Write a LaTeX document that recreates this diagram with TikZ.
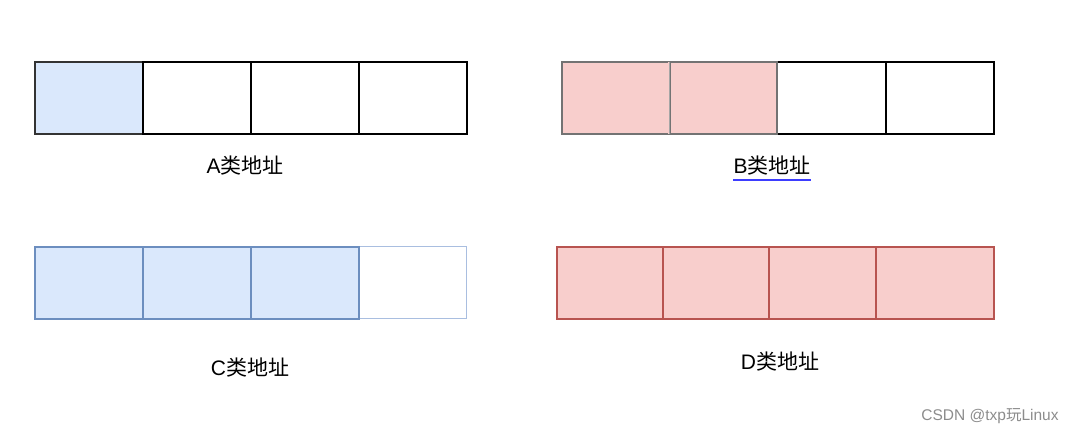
\documentclass[tikz,border=0pt]{standalone}
\usepackage{fontspec}
\setmainfont{Noto Sans CJK SC}
\newfontfamily\latn{Liberation Sans}
\definecolor{lblue}{HTML}{DAE8FC}
\definecolor{dblue}{HTML}{6C8EBF}
\definecolor{pblue}{HTML}{A9BEE0}
\definecolor{lred}{HTML}{F8CECC}
\definecolor{dred}{HTML}{B85450}
\definecolor{ulblue}{HTML}{3D3DFF}
\tikzset{
  cell/.style={rectangle, inner sep=0pt, anchor=north west, minimum height=72pt, line width=1.6pt},
  blk/.style={cell, draw=black, fill=white},
  lab/.style={font=\fontsize{21pt}{24pt}\selectfont, inner sep=0pt, anchor=center},
}
\begin{document}
\begin{tikzpicture}[x=1pt,y=-1pt]
\useasboundingbox (0,0) rectangle (1075,434);
% A row
\node[cell, fill=lblue, draw=black!80, minimum width=108pt] (a1) at (34,61) {};
\node[blk, minimum width=108pt] (a2) at (142,61) {};
\node[blk, minimum width=108pt] (a3) at (250,61) {};
\node[blk, minimum width=108pt] (a4) at (358,61) {};
\node[lab] (la) at (245,166) {{\latn A}类地址};
% B row
\node[blk, minimum width=109pt] (b3) at (776,61) {};
\node[blk, minimum width=108pt] (b4) at (885,61) {};
\node[cell, fill=lred, draw=black!55, minimum width=108pt] (b1) at (561,61) {};
\node[cell, fill=lred, draw=black!55, minimum width=107pt] (b2) at (669,61) {};
\draw[lred, line width=1.8pt] ([yshift=-1pt]b2.north west) -- ([yshift=1pt]b2.south west);
\draw[black!35, line width=1pt] ([yshift=-1pt]b2.north west) -- ([yshift=1pt]b2.south west);
\node[lab] (lb) at (772,166) {{\latn B}类地址};
\draw[ulblue, line width=2pt] ([yshift=-4pt]lb.south west) -- ([yshift=-4pt]lb.south east);
% C row
\node[cell, fill=white, draw=pblue, line width=1.2pt, minimum width=108pt] (c4) at (358,246) {};
\node[cell, fill=lblue, draw=dblue, minimum width=108pt] (c1) at (34,246) {};
\node[cell, fill=lblue, draw=dblue, minimum width=108pt] (c2) at (142,246) {};
\node[cell, fill=lblue, draw=dblue, minimum width=108pt] (c3) at (250,246) {};
\node[lab] (lc) at (250,368) {{\latn C}类地址};
% D row
\node[cell, fill=lred, draw=dred, minimum width=106pt] (d1) at (556,246) {};
\node[cell, fill=lred, draw=dred, minimum width=106pt] (d2) at (662,246) {};
\node[cell, fill=lred, draw=dred, minimum width=107pt] (d3) at (768,246) {};
\node[cell, fill=lred, draw=dred, minimum width=118pt] (d4) at (875,246) {};
\node[lab] (ld) at (780,362) {{\latn D}类地址};
% watermark
\node[font=\fontsize{15.5pt}{18pt}\selectfont, text=black!45, inner sep=0pt] (wm) at (990,416) {{\latn CSDN @txp}玩{\latn Linux}};
\end{tikzpicture}
\end{document}
